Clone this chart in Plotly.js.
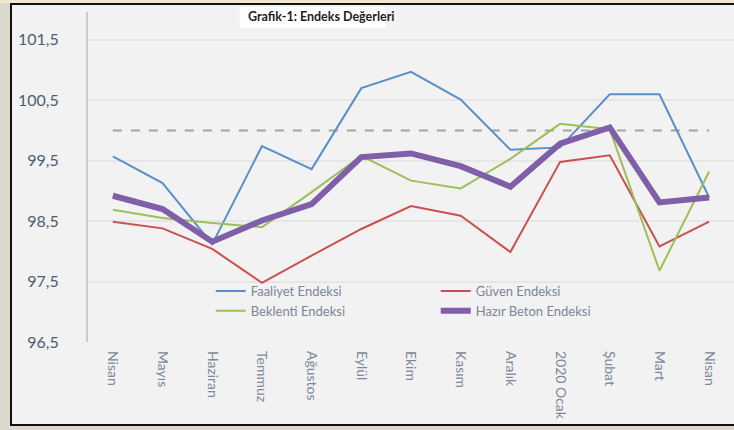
<!DOCTYPE html>
<html>
<head>
<meta charset="utf-8">
<script src="https://cdn.plot.ly/plotly-3.0.1.min.js"></script>
<style>
  html, body { margin: 0; padding: 0; width: 734px; height: 430px; overflow: hidden; background: #dcd8d0; }
  #frame { position: absolute; left: 10px; top: 3px; width: 740px; height: 419px;
           background: #f2f2f2; border-top: 2px solid #111; border-bottom: 2px solid #111; border-left: 2px solid #111; }
  #topstrip { position: absolute; left: 0; top: 0; width: 734px; height: 3px; background: #efe8cf; }
  #chart { position: absolute; left: 0; top: 0; width: 734px; height: 430px; }
</style>
</head>
<body>
<div id="topstrip"></div>
<div id="frame"></div>
<div id="chart"></div>
<script>
// ---- data ----
const months = ["Nisan", "Mayıs", "Haziran", "Temmuz", "Ağustos", "Eylül", "Ekim", "Kasım", "Aralık", "2020 Ocak", "Şubat", "Mart", "Nisan"];
const faaliyet   = [99.57, 99.13, 98.12, 99.74, 99.36, 100.70, 100.97, 100.51, 99.68, 99.72, 100.60, 100.60, 98.89];
const guven      = [98.49, 98.38, 98.04, 97.48, 97.93, 98.37, 98.75, 98.59, 97.99, 99.48, 99.59, 98.08, 98.49];
const beklenti   = [98.69, 98.55, 98.47, 98.40, 98.98, 99.58, 99.17, 99.04, 99.53, 100.11, 100.02, 97.68, 99.32];
const hazirBeton = [98.92, 98.70, 98.16, 98.51, 98.78, 99.56, 99.62, 99.41, 99.07, 99.78, 100.05, 98.81, 98.89];
const referenceLevel = 100;
const yTicks = [96.5, 97.5, 98.5, 99.5, 100.5, 101.5];

const idx = months.map((m, i) => i);
const font = "Lato, 'Open Sans', 'DejaVu Sans', sans-serif";

const traces = [
  { x: idx, y: months.map(() => referenceLevel), mode: "lines", showlegend: false, hoverinfo: "skip",
    line: { color: "#a3a3a3", width: 2, dash: "dash" } },
  { x: idx, y: faaliyet, name: "Faaliyet Endeksi", mode: "lines", line: { color: "#5b8fc9", width: 2 } },
  { x: idx, y: guven, name: "Güven Endeksi", mode: "lines", line: { color: "#c9504e", width: 2 } },
  { x: idx, y: beklenti, name: "Beklenti Endeksi", mode: "lines", line: { color: "#9dbf58", width: 2 } },
  { x: idx, y: hazirBeton, name: "Hazır Beton Endeksi", mode: "lines", line: { color: "#7e5fa8", width: 6 } }
];

const layout = {
  width: 734, height: 430,
  margin: { l: 88, r: 0, t: 12, b: 88 },
  paper_bgcolor: "rgba(0,0,0,0)",
  plot_bgcolor: "rgba(0,0,0,0)",
  separators: ",.",
  font: { family: font },
  showlegend: true,
  legend: {
    orientation: "h", x: 0.19, y: 0.2, xanchor: "left", yanchor: "top",
    bgcolor: "rgba(0,0,0,0)", entrywidth: 180, entrywidthmode: "pixels",
    font: { family: font, size: 13, color: "#7b8797" }, traceorder: "normal"
  },
  xaxis: {
    range: [-0.5, 12.5], tickvals: idx, ticktext: months, tickangle: 90,
    showgrid: false, zeroline: false, showline: false, ticks: "",
    ticklabelstandoff: 8,
    tickfont: { family: font, size: 14, color: "#7d8898" }
  },
  yaxis: {
    range: [96.5, 101.96], tickvals: yTicks, tickformat: ".1f",
    showgrid: true, gridcolor: "#e6e6e6", gridwidth: 2, zeroline: false,
    showline: true, linecolor: "#c9cdd2", linewidth: 2, ticks: "",
    ticklabelstandoff: 24,
    tickfont: { family: font, size: 16, color: "#4d5d70" }
  },
  shapes: [
    { type: "rect", xref: "paper", yref: "paper", x0: 0.235, x1: 0.461, y0: 0.952, y1: 1.015,
      fillcolor: "#ffffff", line: { width: 0 }, layer: "below" }
  ],
  annotations: [
    { text: "<b>Grafik-1: Endeks Değerleri</b>", xref: "paper", yref: "paper", x: 0.362, y: 0.985,
      xanchor: "center", yanchor: "middle", showarrow: false,
      font: { family: font, size: 12.5, color: "#1e1e1e" } }
  ]
};

Plotly.newPlot("chart", traces, layout, { displayModeBar: false, staticPlot: true });
</script>
</body>
</html>
